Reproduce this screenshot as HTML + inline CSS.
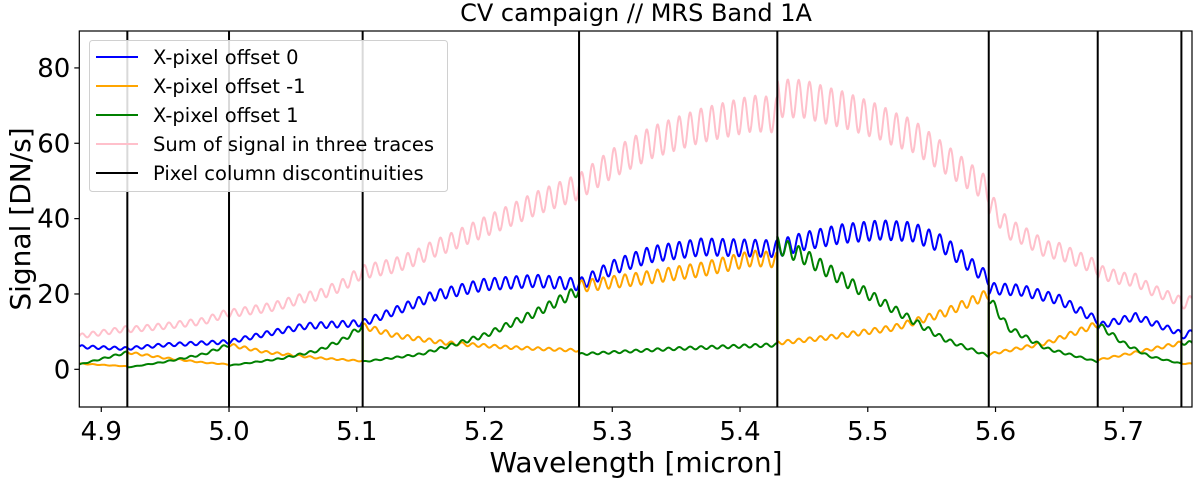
<!DOCTYPE html>
<html><head><meta charset="utf-8">
<style>
html,body{margin:0;padding:0;background:#fff;}
svg{display:block;font-family:"DejaVu Sans","Liberation Sans",sans-serif;}
</style></head>
<body>
<svg id="chart" width="1200" height="478" viewBox="0 0 1200 478" xmlns="http://www.w3.org/2000/svg">
<g id="plot"></g>
<g id="axes"></g>
<text x="636" y="21" text-anchor="middle" font-size="24">CV campaign // MRS Band 1A</text>
<text x="636" y="472" text-anchor="middle" font-size="28">Wavelength [micron]</text>
<text transform="translate(30,219) rotate(-90)" text-anchor="middle" font-size="28">Signal [DN/s]</text>
<g id="legend"></g>
</svg>
<script>
// ---- data ----
const discontinuities = [4.9204, 5.0, 5.1046, 5.274, 5.4292, 5.5947, 5.68, 5.7455];
const blueX = [4.883,4.92,4.95,5.0,5.03,5.06,5.1046,5.13,5.16,5.2,5.24,5.274,5.3,5.33,5.37,5.4292,5.45,5.48,5.51,5.535,5.56,5.5947,5.5947,5.62,5.65,5.68,5.68,5.71,5.7455,5.7455,5.754];
const blueY = [6,5.5,6.5,7.3,9.5,11.5,12.3,15.5,19.5,22.5,23.5,22.5,27,30.5,32.5,32,34,36,37,36.5,33,24,21.5,21,18.5,13,11.5,14,9.5,8.5,10];
const orangeX = [4.883,4.9204,4.9204,4.95,4.98,5.0,5.0,5.03,5.07,5.1046,5.1046,5.13,5.17,5.22,5.274,5.274,5.32,5.37,5.41,5.4292,5.4292,5.47,5.52,5.56,5.5947,5.5947,5.64,5.68,5.68,5.71,5.7455,5.7455,5.754];
const orangeY = [1.5,0.8,4.5,3,1.8,1.3,6.5,4.5,3,2.2,11.5,9,7,5.8,5,22,24,26.5,29.5,29,7,8.5,11,15,20,4,7,12,2.5,4.5,7,1.5,1.5];
const greenX = [4.883,4.9204,4.9204,4.95,4.98,5.0,5.0,5.04,5.07,5.09,5.1046,5.1046,5.15,5.2,5.24,5.274,5.274,5.35,5.4292,5.4292,5.45,5.48,5.52,5.56,5.5947,5.5947,5.61,5.64,5.68,5.68,5.7,5.72,5.7455,5.7455,5.754];
const greenY = [1.3,4.5,0.5,2,4,6.5,1,2.8,5,8,11.5,2,4,9,15,21,4,5.5,6.5,33,30,24,16,8,3.5,19,11,5.5,2,12,7,3.5,1.5,7,7];
const fringeFrac = [0.07];
const fringePeriod = [0.0085];
const xTicks = [4.9,5.0,5.1,5.2,5.3,5.4,5.5,5.6,5.7];
const xTickLabels = ["4.9","5.0","5.1","5.2","5.3","5.4","5.5","5.6","5.7"];
const yTicks = [0,20,40,60,80];
const yTickLabels = ["0","20","40","60","80"];
const legendLabels = ["X-pixel offset 0","X-pixel offset -1","X-pixel offset 1","Sum of signal in three traces","Pixel column discontinuities"];
const legendColors = ["#0000ff","#ffa500","#008000","#ffc0cb","#000000"];

// ---- axes ----
const L=79.3,R=1192,T=31,B=407;
const xMin=4.8828,xMax=5.7538,yMin=-10,yMax=89.8;
const xs=v=>L+(v-xMin)/(xMax-xMin)*(R-L);
const ys=v=>B-(v-yMin)/(yMax-yMin)*(B-T);
const NS="http://www.w3.org/2000/svg";
function mk(tag,attrs,parent){const e=document.createElementNS(NS,tag);for(const k in attrs)e.setAttribute(k,attrs[k]);parent.appendChild(e);return e;}
const plot=document.getElementById('plot'),axes=document.getElementById('axes'),legend=document.getElementById('legend');

function fringe(x){return Math.sin(2*Math.PI*(x-xMin)/fringePeriod[0]);}
function interp(X,Y,x){
  for(let i=0;i<X.length-1;i++){ if(X[i+1]>X[i] && x>=X[i] && x<=X[i+1]) return Y[i]+(Y[i+1]-Y[i])*(x-X[i])/(X[i+1]-X[i]); }
  return x<X[0]?Y[0]:Y[Y.length-1];
}
const STEP=0.0004;
function seriesPath(X,Y){
  let d='';
  for(let i=0;i<X.length-1;i++){
    if(X[i+1]===X[i]){const v=Y[i+1]*(1+fringeFrac[0]*fringe(X[i+1]));d+=`L${xs(X[i+1]).toFixed(2)},${ys(v).toFixed(2)}`;continue;}
    for(let x=X[i];x<X[i+1];x+=STEP){
      const base=Y[i]+(Y[i+1]-Y[i])*(x-X[i])/(X[i+1]-X[i]);
      const v=base*(1+fringeFrac[0]*fringe(x));
      d+=(d===''?'M':'L')+xs(x).toFixed(2)+','+ys(v).toFixed(2);
    }
    const v=Y[i+1]*(1+fringeFrac[0]*fringe(X[i+1]));
    d+=`L${xs(X[i+1]).toFixed(2)},${ys(v).toFixed(2)}`;
  }
  return d;
}
function sumPath(){
  let d='';
  for(let x=xMin;x<=xMax;x+=STEP){
    const s=interp(blueX,blueY,x)+interp(orangeX,orangeY,x)+interp(greenX,greenY,x);
    const v=s*(1+fringeFrac[0]*fringe(x));
    d+=(d===''?'M':'L')+xs(x).toFixed(2)+','+ys(v).toFixed(2);
  }
  return d;
}
mk('clipPath',{id:'clip'},plot);
mk('rect',{x:L,y:T,width:R-L,height:B-T},document.getElementById('clip'));
const g=mk('g',{'clip-path':'url(#clip)'},plot);

const pPink=mk('path',{d:sumPath(),fill:'none',stroke:'#ffc0cb','stroke-width':2,'stroke-linejoin':'round'},g);


const pBlue=mk('path',{d:seriesPath(blueX,blueY),fill:'none',stroke:'#0000ff','stroke-width':2,'stroke-linejoin':'round'},g);


const pOrange=mk('path',{d:seriesPath(orangeX,orangeY),fill:'none',stroke:'#ffa500','stroke-width':2,'stroke-linejoin':'round'},g);


const pGreen=mk('path',{d:seriesPath(greenX,greenY),fill:'none',stroke:'#008000','stroke-width':2,'stroke-linejoin':'round'},g);


discontinuities.forEach(v=>{
  const l=mk('line',{x1:xs(v),x2:xs(v),y1:T,y2:B,stroke:'#000','stroke-width':2},g);
  
  
});
const frame=mk('rect',{x:L,y:T,width:R-L,height:B-T,fill:'none',stroke:'#000','stroke-width':1.2},axes);


xTicks.forEach((v,i)=>{
  const t=mk('line',{x1:xs(v),x2:xs(v),y1:B,y2:B+5,stroke:'#000','stroke-width':1.2},axes);
  
  
  const tx=mk('text',{x:xs(v),y:B+33,'text-anchor':'middle','font-size':26},axes);
  tx.textContent=xTickLabels[i];
  
  
});
yTicks.forEach((v,i)=>{
  const t=mk('line',{x1:L-5,x2:L,y1:ys(v),y2:ys(v),stroke:'#000','stroke-width':1.2},axes);
  
  
  const tx=mk('text',{x:L-9,y:ys(v)+9,'text-anchor':'end','font-size':26},axes);
  tx.textContent=yTickLabels[i];
  
  
});
// legend
const lb=mk('rect',{x:89.5,y:40.5,width:358,height:151,rx:3,fill:'#fff','fill-opacity':0.85,stroke:'#d0d0d0','stroke-width':1},legend);


legendLabels.forEach((lab,i)=>{
  const y=57+i*29;
  const ln=mk('line',{x1:96,x2:138,y1:y,y2:y,stroke:legendColors[i],'stroke-width':2},legend);
  
  
  const tx=mk('text',{x:153,y:y+7,'font-size':19.5},legend);
  tx.textContent=lab;
  
  
});
</script>
</body></html>
